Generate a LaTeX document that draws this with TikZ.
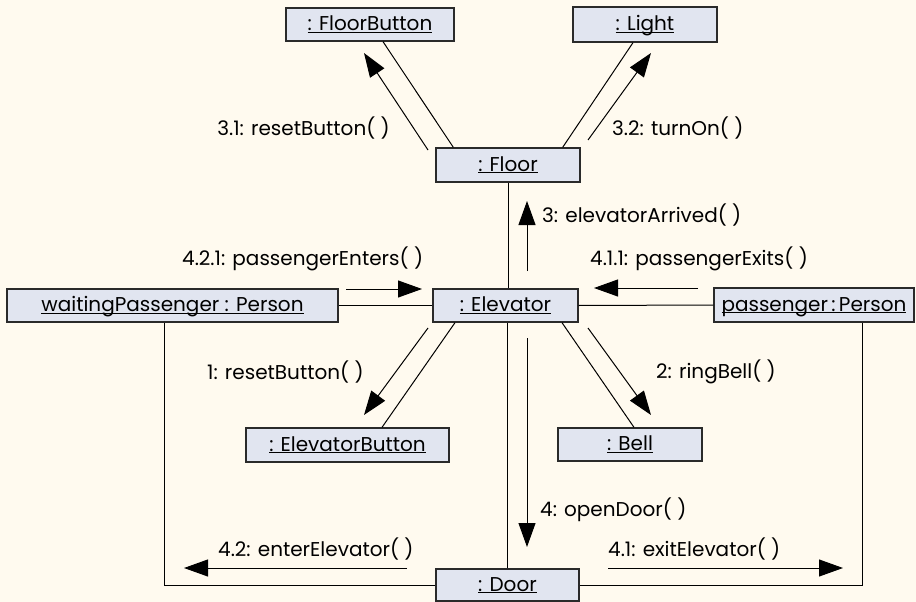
\documentclass[tikz,border=0pt]{standalone}
\usepackage{fontspec}
\setmainfont{Poppins}
\usetikzlibrary{arrows.meta,calc}
\definecolor{bgc}{HTML}{FFFAEF}
\definecolor{boxc}{HTML}{E1E5F0}
\definecolor{edgec}{HTML}{2A2A2A}
\newcommand\ulname[1]{\underline{\smash{#1}}}
\tikzset{
  obj/.style={draw=edgec, line width=1.3pt, fill=boxc, inner sep=0pt, minimum height=33pt,
    font=\fontsize{20}{24}\selectfont, text=black, text height=15pt, text depth=3pt},
  lbl/.style={inner sep=0pt, font=\fontsize{20}{24}\selectfont, text=black},
  link/.style={draw=black, line width=1pt},
  msg/.style={draw=black, line width=1pt, -{Triangle[length=24pt,width=17pt]}}
}
\begin{document}
\begin{tikzpicture}[x=1pt,y=-1pt]
\fill[bgc] (0,0) rectangle (916,602);
\useasboundingbox (0,0) rectangle (916,602);
% objects
\node[obj, minimum width=168pt] (fb) at (370,24.5) {\ulname{: FloorButton}};
\node[obj, minimum width=144pt, minimum height=35pt] (light) at (645,24.5) {\ulname{: Light}};
\node[obj, minimum width=144pt, minimum height=34pt] (floor) at (508,165) {\ulname{: Floor}};
\node[obj, minimum width=331pt] (wp) at (172.5,305.5) {\ulname{waitingPassenger : Person}};
\node[obj, minimum width=145pt] (elev) at (505.5,305.5) {\ulname{: Elevator}};
\node[obj, minimum width=200pt, minimum height=34pt] (pass) at (814,305) {\ulname{passenger\,:\,Person}};
\node[obj, minimum width=203pt, minimum height=34pt] (eb) at (347.5,445) {\ulname{: ElevatorButton}};
\node[obj, minimum width=144pt] (bell) at (630,444.5) {\ulname{: Bell}};
\node[obj, minimum width=143pt, minimum height=32pt] (door) at (507.5,585) {\ulname{: Door}};
% links
\draw[link] ($(fb.south)+(13,0)$) -- ($(floor.north west)+(18,0)$);
\draw[link] ($(light.south)+(-12,0)$) -- ($(floor.north east)+(-18,0)$);
\draw[link] (floor.south) -- (floor.south |- elev.north);
\draw[link] (wp.east) -- (elev.west);
\draw[link] (elev.east) -- (pass.west);
\draw[link] ($(elev.south)+(-50.5,0)$) -- ($(eb.north)+(34.5,0)$);
\draw[link] ($(elev.south)+(56.5,0)$) -- ($(bell.north)+(4,0)$);
\draw[link] (door.north) -- (door.north |- elev.south);
\draw[link] ($(wp.south)+(-8.5,0)$) |- (door.west);
\draw[link] ($(pass.south)+(48,0)$) |- (door.east);
% message arrows
\coordinate (m31a) at (428,150); \coordinate (m31b) at (364,53);
\coordinate (m32a) at (588,140); \coordinate (m32b) at (651,53);
\coordinate (m3a) at (527,271);  \coordinate (m3b) at (527,201);
\coordinate (m411a) at (698,288); \coordinate (m411b) at (594,288);
\coordinate (m421a) at (346,289); \coordinate (m421b) at (422,289);
\coordinate (m1a) at (428,328);  \coordinate (m1b) at (364,415);
\coordinate (m2a) at (588,328);  \coordinate (m2b) at (651,415);
\coordinate (m4a) at (527,338);  \coordinate (m4b) at (527,547);
\coordinate (m42a) at (407,568); \coordinate (m42b) at (184,568);
\coordinate (m41a) at (608,568); \coordinate (m41b) at (843,568);
\draw[msg] (m31a) -- (m31b);
\draw[msg] (m32a) -- (m32b);
\draw[msg] (m3a) -- (m3b);
\draw[msg] (m411a) -- (m411b);
\draw[msg] (m421a) -- (m421b);
\draw[msg] (m1a) -- (m1b);
\draw[msg] (m2a) -- (m2b);
\draw[msg] (m4a) -- (m4b);
\draw[msg] (m42a) -- (m42b);
\draw[msg] (m41a) -- (m41b);
% labels
\node[lbl, anchor=east] (l31) at (390,128) {3.1: resetButton( )};
\node[lbl, anchor=west] (l32) at (612,128) {3.2: turnOn( )};
\node[lbl, anchor=west] (l3) at (542,215) {3: elevatorArrived( )};
\node[lbl, anchor=west] (l421) at (182,259) {4.2.1: passengerEnters( )};
\node[lbl, anchor=west] (l411) at (590,259) {4.1.1: passengerExits( )};
\node[lbl, anchor=west] (l1) at (207,372) {1: resetButton( )};
\node[lbl, anchor=west] (l2) at (656,372) {2: ringBell( )};
\node[lbl, anchor=west] (l4) at (540,510) {4: openDoor( )};
\node[lbl, anchor=west] (l42) at (218,549) {4.2: enterElevator( )};
\node[lbl, anchor=west] (l41) at (608,549) {4.1: exitElevator( )};
\end{tikzpicture}
\end{document}
